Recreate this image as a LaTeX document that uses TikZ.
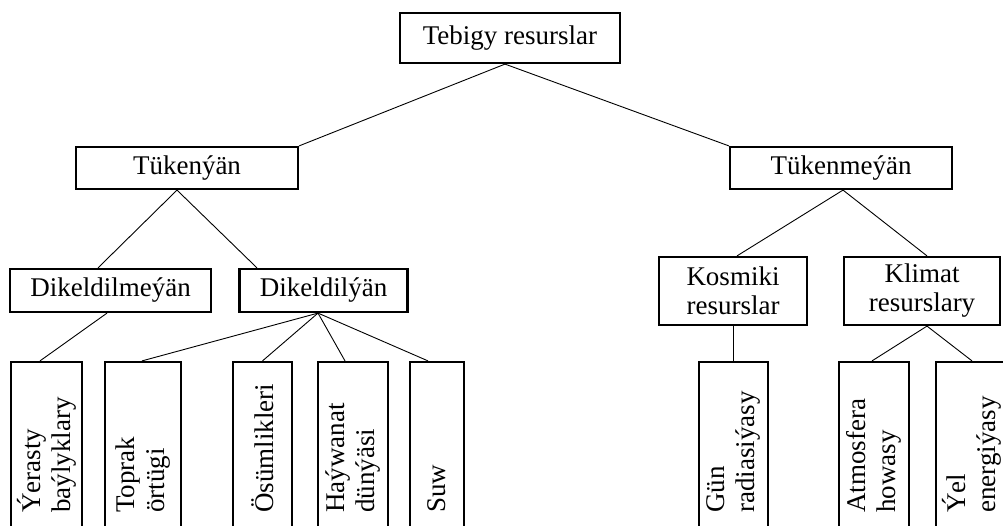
\documentclass[tikz,border=0pt]{standalone}
\usepackage{fontspec}
\setmainfont{Liberation Serif}
\begin{document}
\begin{tikzpicture}[x=1pt,y=-1pt,
  box/.style={draw, line width=2.2pt, inner sep=0pt, align=center,
    font=\fontsize{27}{29}\selectfont},
  tallbox/.style={draw, line width=2.2pt, inner sep=0pt, minimum height=198pt},
  vtext/.style={rotate=90, anchor=west, inner sep=0pt, align=left,
    font=\fontsize{27}{30}\selectfont},
  conn/.style={line width=0.9pt}]
\clip (0,0) rectangle (1003,526);
\fill[white] (0,0) rectangle (1003,526);
% upper boxes
\node[box, minimum width=220pt, minimum height=50pt] (root) at (510,38) {Tebigy resurslar};
\node[box, minimum width=222pt, minimum height=42pt] (tuk) at (187,168) {Tükenýän};
\node[box, minimum width=222pt, minimum height=42pt] (tukm) at (841,168) {Tükenmeýän};
\node[box, minimum width=201pt, minimum height=43pt] (dm) at (110.5,290.5) {Dikeldilmeýän};
\node[box, minimum width=168pt, minimum height=43pt] (dy) at (323.5,290.5) {Dikeldilýän};
\node[box, minimum width=148pt, minimum height=68pt] (kos) at (733,291) {Kosmiki\\resurslar};
\node[box, minimum width=156pt, minimum height=68pt] (kli) at (922,291) {Klimat\\resurslary};
% bottom boxes
\node[tallbox, minimum width=71pt] (yer) at (46.5,461) {};
\node[tallbox, minimum width=76pt] (topr) at (143,461) {};
\node[tallbox, minimum width=59pt] (os) at (262.5,461) {};
\node[tallbox, minimum width=70pt] (hay) at (353,461) {};
\node[tallbox, minimum width=54pt] (suw) at (437,461) {};
\node[tallbox, minimum width=69pt] (gun) at (733.5,461) {};
\node[tallbox, minimum width=70pt] (atm) at (874,461) {};
\node[tallbox, minimum width=72pt] (yel) at (972,461) {};
% vertical texts
\node[vtext] (yert) at (46.5,513) {Ýerasty\\baýlyklary};
\node[vtext] (toprt) at (143,513) {Toprak\\örtügi};
\node[vtext] (ost) at (262.5,513) {Ösümlikleri};
\node[vtext] (hayt) at (353,513) {Haýwanat\\dünýäsi};
\node[vtext] (suwt) at (437,513) {Suw};
\node[vtext] (gunt) at (733.5,513) {Gün\\radiasiýasy};
\node[vtext] (atmt) at (874,513) {Atmosfera\\howasy};
\node[vtext] (yelt) at (972,513) {Ýel\\energiýasy};
% connectors
\draw[conn] ([xshift=-5pt]root.south) -- (tuk.north east);
\draw[conn] ([xshift=-5pt]root.south) -- (tukm.north west);
\draw[conn] ([xshift=-10pt]tuk.south) -- ([xshift=-12.5pt]dm.north);
\draw[conn] ([xshift=-10pt]tuk.south) -- ([xshift=-66.5pt]dy.north);
\draw[conn] ([xshift=-3.5pt]dm.south) -- ([xshift=-6.5pt]yer.north);
\draw[conn] ([xshift=-5.5pt]dy.south) -- ([xshift=-1pt]topr.north);
\draw[conn] ([xshift=-5.5pt]dy.south) -- (os.north);
\draw[conn] ([xshift=-5.5pt]dy.south) -- ([xshift=-8pt]hay.north);
\draw[conn] ([xshift=-5.5pt]dy.south) -- ([xshift=-9pt]suw.north);
\draw[conn] ([xshift=2pt]tukm.south) -- ([xshift=4pt]kos.north);
\draw[conn] ([xshift=2pt]tukm.south) -- ([xshift=5pt]kli.north);
\draw[conn] (kos.south) -- (kos.south |- gun.north);
\draw[conn] ([xshift=5pt]kli.south) -- ([xshift=-2pt]atm.north);
\draw[conn] ([xshift=5pt]kli.south) -- (yel.north);
\end{tikzpicture}
\end{document}
